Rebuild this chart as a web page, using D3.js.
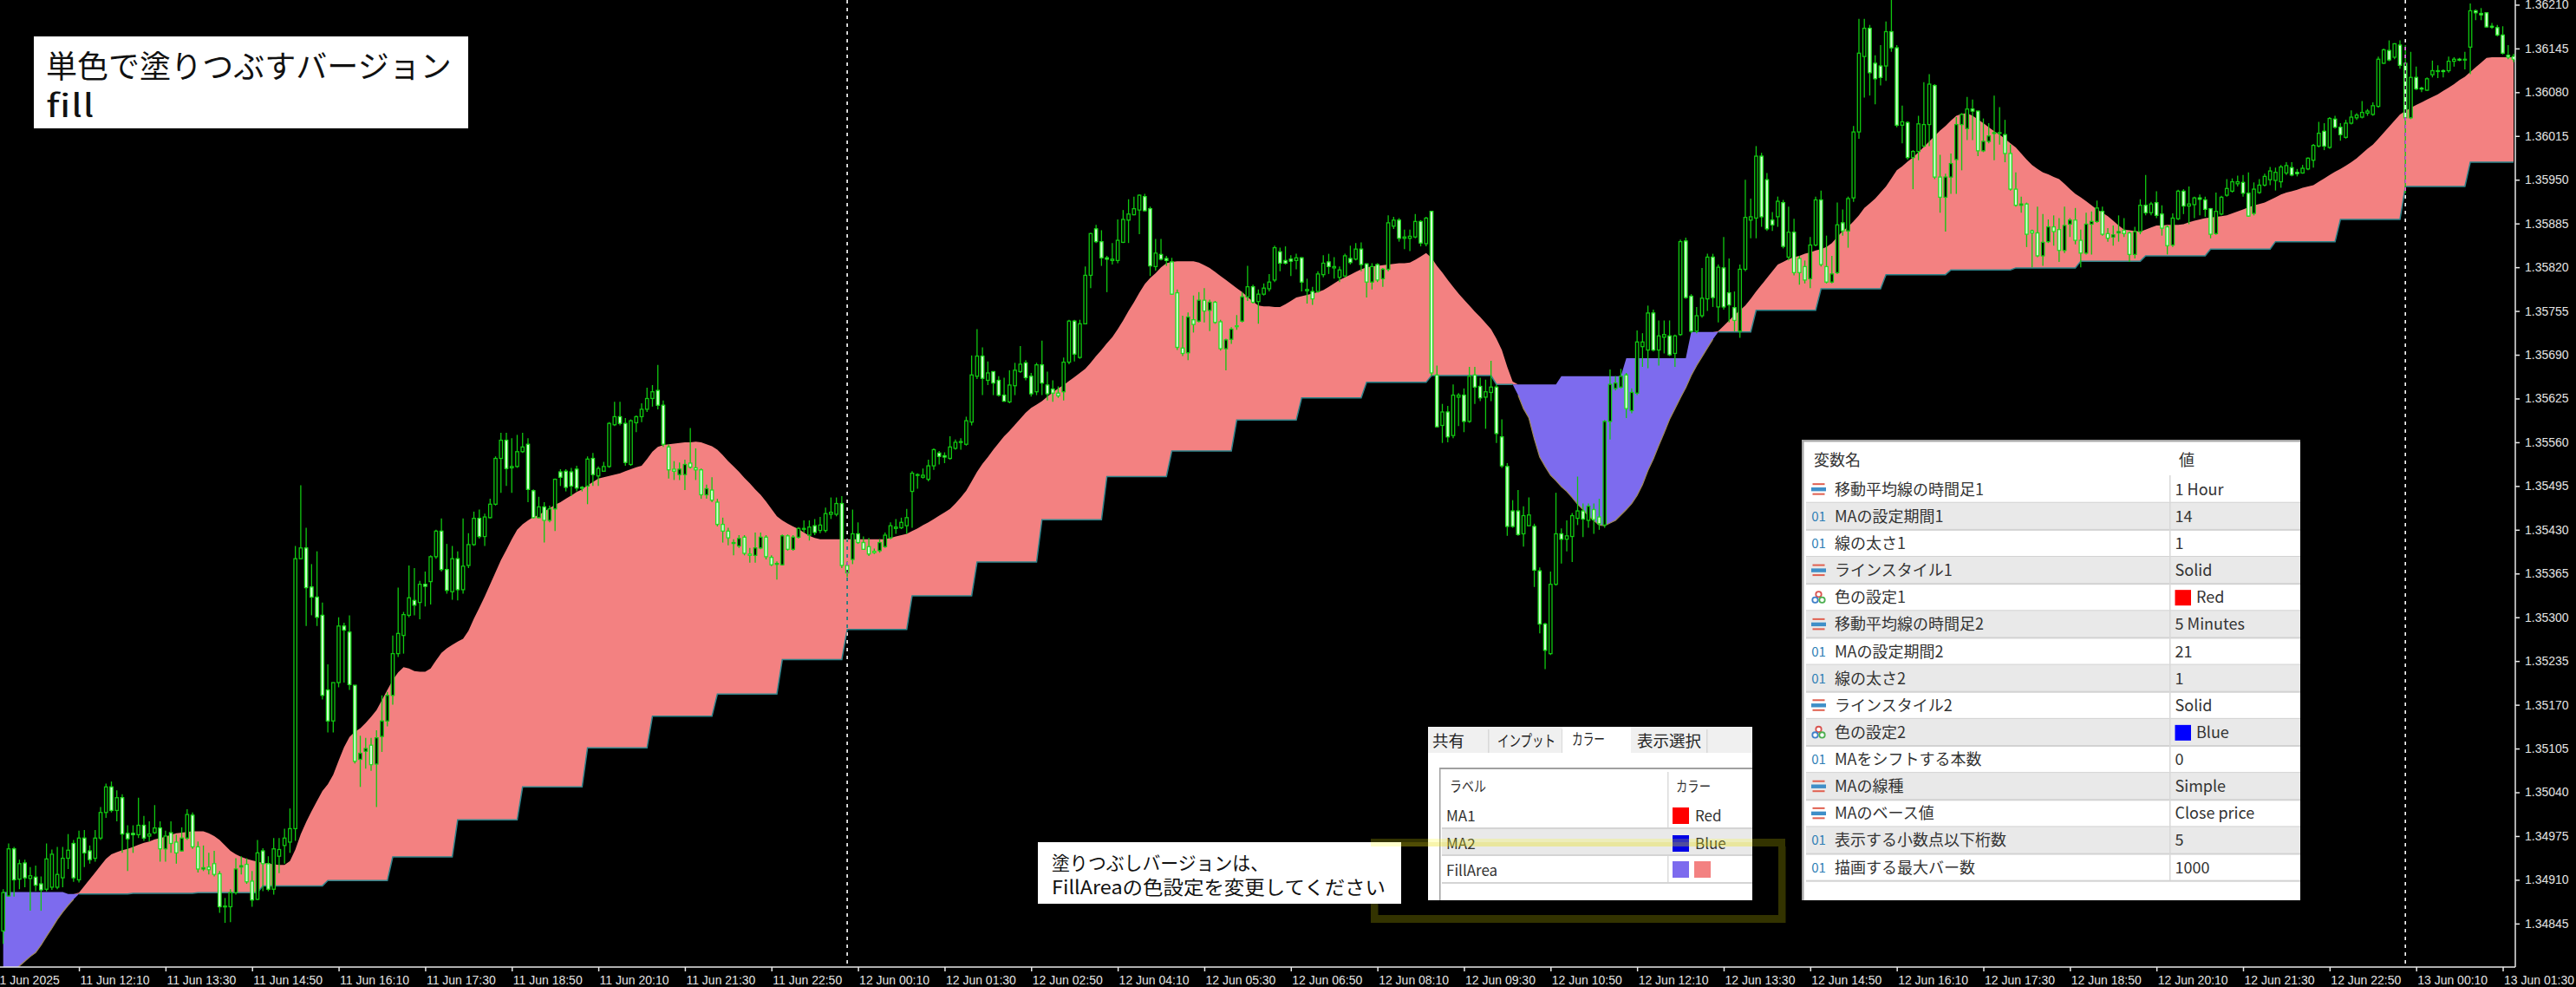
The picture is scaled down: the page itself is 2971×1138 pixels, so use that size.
<!DOCTYPE html>
<html><head><meta charset="utf-8">
<script src="https://cdnjs.cloudflare.com/ajax/libs/d3/7.8.5/d3.min.js"></script>
<style>html,body{margin:0;background:#000;overflow:hidden}svg{display:block}
.jp{font-family:"Noto Sans CJK JP","Noto Sans",sans-serif}
.axis text{font-family:"Liberation Sans",sans-serif;font-size:14px;fill:#e4e4e4}
.axis path,.axis line{stroke:#e8e8e8;stroke-width:1.5}
</style></head><body><svg id="c" width="2971" height="1138"></svg>
<script>
// Values are points above 1.34000 (1 point = 0.00001). Rows: [open, close, high, low]
const candlesA=[[834,891,896,815],[886,956,964,885],[956,910,959,885],[911,934,940,896],[935,913,940,899],[912,916,929,864],[914,902,931,893],[904,895,915,864],[896,941,964,893],[899,948,955,895],[899,918,959,896],[913,942,959,899],[942,954,978,926],[964,913,969,907],[910,972,983,906],[972,950,984,929],[953,940,961,934],[942,972,984,937],[972,1010,1018,969],[1010,1048,1053,1002],[1048,1013,1056,1010],[1013,1032,1043,997],[1032,978,1037,950],[979,971,991,923],[979,977,991,950],[977,991,1032,972],[991,972,1005,968],[975,978,997,967],[980,987,1021,978],[987,956,997,937],[956,975,983,937],[980,964,997,950],[966,950,977,934],[953,972,988,952],[972,1007,1015,969],[1006,959,1010,956],[959,926,967,921],[926,928,961,923],[929,925,950,918],[934,918,953,915],[919,870,923,861],[870,871,883,846],[870,891,896,847],[891,926,942,888],[929,931,945,918],[933,907,942,904],[908,880,923,870],[881,950,969,880],[953,934,957,893],[934,896,945,893],[896,956,972,888],[945,955,972,920],[961,972,986,934],[966,986,1016,950],[986,1387,1406,968],[1387,1403,1496,1387],[1403,1344,1433,1287],[1345,1330,1379,1303],[1330,1300,1398,1287],[1303,1184,1322,1178],[1192,1146,1230,1129],[1146,1203,1203,1129],[1203,1287,1300,1196],[1287,1281,1292,1203],[1278,1200,1303,1192],[1199,1086,1199,1083],[1089,1098,1124,1048],[1101,1105,1121,1075],[1110,1081,1121,1072],[1082,1121,1132,1018],[1123,1146,1184,1100],[1146,1184,1189,1138],[1184,1246,1273,1170],[1246,1276,1344,1241],[1273,1304,1308,1246],[1303,1329,1377,1300],[1325,1318,1373,1303],[1322,1349,1354,1297],[1349,1346,1368,1316],[1353,1390,1392,1319],[1390,1428,1430,1387],[1428,1371,1447,1368],[1371,1340,1409,1335],[1338,1387,1406,1326],[1387,1341,1398,1325],[1341,1376,1447,1335],[1377,1408,1425,1373],[1408,1447,1457,1406],[1447,1420,1460,1417],[1420,1449,1454,1406],[1448,1468,1476,1447],[1468,1536,1539,1466],[1536,1563,1574,1485],[1563,1521,1574,1495],[1522,1524,1566,1485],[1524,1546,1571,1522],[1546,1553,1574,1544],[1557,1490,1566,1471],[1488,1448,1490,1447],[1448,1464,1479,1447],[1464,1444,1471,1411],[1444,1461,1466,1441],[1461,1505,1506,1428],[1516,1508,1520,1495],[1517,1493,1520,1487],[1516,1495,1522,1480],[1520,1492,1525,1487],[1493,1492,1495,1487],[1495,1535,1539,1468],[1536,1512,1544,1495],[1510,1521,1524,1495],[1517,1524,1531,1517],[1524,1588,1590,1522],[1586,1598,1620,1584],[1598,1588,1620,1585],[1588,1530,1596,1525]];
const candlesB=[[1527,1592,1594,1525],[1589,1598,1600,1575],[1598,1609,1618,1590],[1609,1625,1641,1605],[1625,1635,1645,1613],[1637,1615,1675,1609],[1615,1557,1622,1553],[1553,1519,1557,1506],[1520,1517,1532,1504],[1512,1520,1530,1504],[1512,1527,1534,1489],[1529,1523,1581,1521],[1522,1519,1551,1504],[1519,1482,1521,1476],[1482,1491,1497,1476],[1489,1474,1508,1471],[1471,1438,1476,1435],[1438,1428,1448,1411],[1428,1418,1433,1407],[1410,1411,1416,1392],[1406,1417,1422,1403],[1419,1395,1422,1392],[1394,1392,1403,1381],[1392,1403,1426,1381],[1403,1419,1426,1401],[1419,1390,1422,1386],[1389,1378,1392,1376],[1379,1380,1383,1356],[1378,1421,1423,1377],[1421,1401,1423,1399],[1401,1419,1422,1399],[1419,1432,1434,1417],[1431,1432,1444,1426],[1422,1434,1444,1414],[1436,1426,1446,1422],[1429,1437,1449,1425],[1429,1454,1463,1426],[1453,1456,1478,1446],[1453,1469,1478,1450],[1469,1377,1480,1373],[1377,1366,1383,1360],[1386,1424,1460,1379],[1424,1411,1441,1409],[1411,1401,1420,1400],[1405,1394,1418,1391],[1398,1396,1402,1394],[1399,1411,1416,1396],[1405,1422,1426,1403],[1418,1436,1441,1416],[1432,1434,1446,1424],[1433,1441,1448,1431],[1436,1448,1461,1424],[1487,1514,1517,1433],[1512,1512,1514,1491],[1508,1511,1521,1506],[1505,1525,1534,1502],[1525,1549,1551,1519],[1544,1539,1547,1527],[1540,1538,1545,1529],[1536,1553,1569,1534],[1551,1560,1564,1549],[1560,1561,1566,1549],[1557,1592,1598,1555],[1590,1660,1689,1585],[1658,1688,1728,1654],[1688,1655,1701,1630],[1652,1663,1680,1645],[1665,1648,1665,1630],[1652,1630,1658,1628],[1630,1621,1656,1620],[1620,1645,1667,1618],[1644,1667,1678,1630],[1665,1676,1703,1663],[1678,1656,1682,1652],[1658,1632,1663,1628],[1635,1675,1678,1630],[1675,1648,1711,1630],[1645,1632,1665,1622],[1639,1633,1652,1620],[1633,1629,1643,1626],[1635,1679,1686,1622],[1679,1740,1742,1676],[1740,1691,1742,1680],[1686,1736,1742,1684],[1736,1808,1821,1735],[1808,1870,1871,1789],[1877,1858,1883,1856],[1858,1834,1875,1822],[1834,1832,1837,1783],[1830,1832,1856,1824],[1830,1860,1891,1826],[1857,1891,1905,1856],[1890,1899,1921,1856],[1898,1907,1925,1897],[1905,1927,1928,1869],[1925,1904,1929,1903],[1907,1822,1910,1807],[1821,1841,1862,1815],[1839,1832,1862,1830],[1833,1830,1837,1822],[1828,1780,1834,1779],[1782,1701,1787,1697],[1700,1692,1748,1688],[1693,1746,1753,1682],[1742,1735,1778,1723],[1740,1771,1783,1738],[1771,1755,1789,1738],[1756,1768,1772,1725],[1768,1738,1770,1736],[1739,1699,1742,1696],[1699,1712,1714,1667],[1713,1728,1731,1706],[1733,1732,1749,1727],[1740,1776,1783,1738],[1776,1791,1822,1770],[1791,1768,1794,1766]];
const candlesC=[[1769,1780,1787,1736],[1780,1789,1796,1778],[1788,1798,1810,1784],[1801,1849,1852,1798],[1843,1826,1849,1814],[1830,1826,1851,1824],[1832,1829,1838,1807],[1830,1834,1840,1817],[1834,1798,1835,1784],[1785,1787,1803,1766],[1784,1773,1791,1764],[1784,1810,1814,1782],[1809,1826,1838,1805],[1828,1821,1840,1810],[1819,1821,1835,1803],[1805,1816,1821,1798],[1807,1837,1840,1805],[1833,1827,1852,1824],[1832,1847,1856,1830],[1847,1824,1857,1814],[1825,1798,1826,1775],[1798,1821,1826,1787],[1824,1801,1826,1798],[1803,1817,1819,1791],[1817,1886,1897,1814],[1881,1890,1895,1877],[1890,1863,1893,1858],[1863,1865,1876,1847],[1863,1866,1876,1844],[1865,1888,1899,1863],[1888,1856,1890,1851],[1855,1893,1895,1851],[1903,1663,1904,1658],[1660,1583,1674,1582],[1585,1605,1617,1559],[1605,1568,1614,1560],[1570,1630,1646,1566],[1627,1630,1633,1584],[1630,1591,1640,1575],[1591,1658,1672,1589],[1660,1642,1672,1617],[1643,1626,1656,1621],[1627,1635,1653,1580],[1634,1642,1681,1621],[1642,1573,1646,1559],[1568,1525,1594,1522],[1524,1435,1529,1421],[1458,1435,1474,1433],[1458,1423,1489,1421],[1424,1451,1465,1405],[1436,1452,1478,1435],[1435,1370,1439,1345],[1369,1290,1374,1276],[1290,1251,1292,1223],[1246,1349,1368,1244],[1349,1424,1485,1347],[1424,1416,1432,1380],[1416,1421,1444,1398],[1420,1451,1455,1382],[1447,1458,1509,1437],[1458,1446,1469,1419],[1444,1465,1469,1433],[1460,1445,1469,1424],[1449,1439,1476,1430],[1437,1591,1593,1433],[1591,1646,1668,1564],[1640,1648,1658,1637],[1642,1658,1669,1640],[1660,1610,1663,1596],[1607,1634,1640,1603],[1633,1709,1726,1630],[1702,1709,1722,1672],[1697,1752,1763,1670],[1752,1697,1757,1695],[1697,1718,1741,1674],[1716,1720,1741,1692],[1718,1690,1741,1688],[1692,1718,1720,1672],[1720,1858,1861,1718],[1859,1775,1864,1773],[1777,1725,1780,1722],[1725,1748,1761,1722],[1748,1774,1819,1745],[1773,1835,1840,1755],[1835,1775,1840,1761],[1761,1820,1824,1738],[1819,1761,1865,1757],[1782,1764,1833,1738],[1760,1741,1784,1725],[1725,1817,1824,1715],[1817,1894,1950,1814],[1890,1895,1922,1863],[1893,1985,2000,1863],[1985,1895,1990,1880],[1950,1877,1960,1874],[1890,1883,1902,1874],[1895,1918,1925,1880],[1916,1851,1920,1848],[1835,1872,1910,1830],[1872,1812,1892,1808],[1833,1812,1837,1794],[1821,1801,1830,1796],[1803,1853,1865,1789],[1853,1920,1925,1851],[1920,1824,1934,1821],[1821,1798,1867,1796],[1798,1810,1837,1796],[1812,1883,1916,1810],[1886,1874,1906,1867],[1874,1922,1925,1849],[1923,2021,2030,1917],[2021,2138,2189,2011],[2133,2175,2189,2072],[2175,2109,2180,2075],[2123,2100,2135,2062],[2119,2102,2150,2090]];
const candlesD=[[2119,2170,2185,2097],[2170,2146,2225,2140],[2146,2031,2150,2028],[2031,2036,2060,2004],[2035,1983,2037,1980],[1983,1992,1994,1936],[1992,2033,2045,1979],[2000,2032,2095,1998],[2032,2092,2107,2000],[2090,1954,2092,1951],[1954,1924,1987,1901],[1924,1954,1959,1873],[1954,1974,1989,1929],[1980,2032,2043,1929],[2032,2047,2049,1964],[2026,2055,2073,2009],[2055,2052,2069,2009],[2052,1993,2052,1985],[1993,2007,2041,1991],[2007,2015,2034,2004],[2019,2020,2075,1979],[2020,2020,2058,2002],[2017,1989,2039,1976],[1989,1936,2002,1934],[1936,1912,1961,1910],[1912,1914,1925,1901],[1914,1869,1916,1850],[1874,1871,1876,1820],[1871,1837,1910,1835],[1837,1857,1899,1822],[1858,1880,1891,1856],[1880,1873,1897,1852],[1876,1845,1893,1828],[1845,1882,1910,1841],[1884,1890,1893,1865],[1890,1860,1908,1854],[1860,1841,1876,1820],[1841,1884,1901,1839],[1884,1888,1903,1839],[1888,1908,1919,1886],[1903,1869,1910,1867],[1870,1863,1878,1858],[1865,1868,1882,1852],[1871,1873,1897,1858],[1875,1870,1893,1865],[1871,1839,1873,1828],[1839,1873,1880,1833],[1873,1912,1921,1869],[1912,1901,1957,1897],[1901,1914,1917,1897],[1916,1897,1933,1893],[1899,1878,1912,1867],[1880,1852,1882,1839],[1853,1893,1900,1850],[1892,1933,1935,1890],[1933,1911,1936,1899],[1911,1914,1940,1884],[1913,1923,1925,1893],[1923,1921,1928,1897],[1920,1906,1925,1895],[1907,1869,1908,1863],[1870,1903,1931,1868],[1899,1924,1926,1897],[1927,1937,1951,1925],[1933,1947,1952,1931],[1944,1947,1956,1940],[1946,1930,1957,1925],[1930,1896,1961,1895],[1900,1936,1946,1897],[1931,1942,1951,1929],[1942,1955,1959,1940],[1950,1963,1969,1942],[1949,1961,1968,1934],[1947,1969,1972,1938],[1960,1971,1976,1957],[1968,1957,1976,1955],[1961,1959,1966,1955],[1960,1967,1972,1959],[1966,1982,1983,1964],[1979,2001,2003,1968],[2000,2019,2036,1998],[2022,2000,2034,1994],[1998,2041,2043,1996],[2040,2028,2045,2026],[2028,2017,2034,2008],[2013,2034,2039,2011],[2034,2043,2053,2032],[2042,2046,2049,2039],[2043,2050,2067,2041],[2049,2052,2055,2045],[2047,2060,2065,2045],[2059,2129,2133,2057],[2123,2143,2145,2122],[2142,2128,2157,2126],[2132,2152,2153,2129],[2150,2120,2157,2115],[2123,2042,2150,1930],[2042,2102,2140,2040],[2102,2085,2118,2083],[2086,2085,2088,2080],[2083,2100,2102,2082],[2106,2112,2127,2102],[2111,2112,2120,2101],[2112,2111,2114,2102],[2112,2126,2133,2109],[2126,2129,2132,2118],[2129,2128,2131,2126],[2128,2129,2140,2114],[2147,2201,2212,2107],[2201,2198,2203,2187],[2197,2195,2205,2187],[2198,2177,2199,2176],[2178,2177,2183,2174],[2176,2165,2180,2163],[2165,2138,2178,2136],[2135,2132,2150,2129],[2133,2129,2137,2125]];
// 5-minute MA, one value per bar
const fastMA=[760,768,775,782,789,796,802,813,826,838,851,862,872,881,891,901,911,921,931,941,948,951,954,956,959,962,965,967,970,972,974,977,979,980,981,982,982,982,979,975,969,961,953,948,944,941,939,937,935,934,933,932,932,938,955,978,996,1012,1027,1042,1052,1066,1087,1107,1122,1130,1135,1143,1152,1162,1177,1192,1207,1218,1226,1224,1220,1219,1219,1224,1236,1247,1254,1259,1264,1268,1280,1298,1314,1331,1349,1367,1385,1400,1416,1430,1438,1444,1449,1452,1457,1462,1467,1471,1476,1481,1486,1490,1496,1501,1506,1508,1510,1512,1514,1517,
1520,1523,1525,1535,1546,1553,1556,1557,1558,1559,1560,1560,1561,1560,1557,1554,1549,1541,1532,1524,1516,1507,1499,1490,1482,1472,1461,1450,1444,1439,1435,1431,1426,1421,1418,1416,1416,1416,1416,1416,1416,1416,1416,1416,1416,1416,1416,1416,1418,1420,1422,1424,1428,1432,1437,1441,1446,1451,1456,1461,1469,1478,1488,1502,1516,1528,1538,1549,1559,1569,1577,1586,1595,1604,1611,1616,1621,1628,1634,1640,1645,1651,1657,1663,1669,1678,1688,1697,1707,1716,1728,1741,1755,1768,1782,1795,1804,1811,1820,1826,1828,1829,1829,1829,1829,1827,1823,1819,1813,1807,1801,1795,1789,1783,1776,1769,
1763,1762,1762,1761,1761,1765,1770,1775,1777,1779,1781,1783,1786,1791,1796,1801,1805,1809,1813,1817,1820,1821,1822,1823,1824,1825,1826,1826,1827,1831,1836,1841,1834,1822,1812,1801,1791,1781,1772,1763,1754,1746,1737,1728,1714,1697,1672,1650,1630,1610,1596,1565,1538,1524,1511,1503,1494,1487,1478,1468,1460,1451,1444,1437,1436,1440,1444,1452,1460,1469,1481,1497,1518,1535,1555,1574,1594,1610,1626,1641,1659,1674,1687,1700,1713,1725,1733,1741,1749,1756,1763,1773,1784,1794,1804,1814,1824,1828,1832,1835,1837,1840,1842,1845,1847,1850,1856,1865,1874,1880,1888,1897,1908,1915,1922,1931,
1940,1952,1964,1970,1977,1983,1991,1999,2007,2015,2023,2030,2038,2045,2048,2049,2045,2040,2034,2028,2022,2017,2011,2004,1998,1989,1980,1972,1966,1961,1958,1954,1951,1944,1936,1929,1924,1918,1912,1906,1901,1896,1889,1882,1876,1875,1874,1873,1876,1879,1882,1882,1883,1883,1883,1884,1887,1889,1891,1893,1894,1895,1896,1897,1900,1903,1906,1909,1912,1914,1916,1920,1924,1928,1931,1933,1935,1938,1940,1942,1947,1952,1957,1962,1966,1971,1976,1982,1989,1996,2002,2011,2020,2029,2038,2047,2052,2057,2061,2065,2069,2073,2077,2082,2087,2092,2098,2103,2110,2117,2124,2131,2132,2132,2132,2132,2132];
// 1-hour MA, one value per hour (12 bars each)
const slowMAHourly=[892,889,890,891,901,909,944,999,1048,1106,1153,1186,1237,1282,1332,1382,1445,1509,1547,1593,1626,1649,1659,1646,1658,1685,1724,1756,1788,1809,1816,1819,1829,1837,1847,1858,1891,1940,1976];
const priceTicks=[2210,2145,2080,2015,1950,1885,1820,1755,1690,1625,1560,1495,1430,1365,1300,1235,1170,1105,1040,975,910,845];
const timeLabels=["11 Jun 2025","11 Jun 12:10","11 Jun 13:30","11 Jun 14:50","11 Jun 16:10","11 Jun 17:30","11 Jun 18:50","11 Jun 20:10","11 Jun 21:30","11 Jun 22:50","12 Jun 00:10","12 Jun 01:30","12 Jun 02:50","12 Jun 04:10","12 Jun 05:30","12 Jun 06:50","12 Jun 08:10","12 Jun 09:30","12 Jun 10:50","12 Jun 12:10","12 Jun 13:30","12 Jun 14:50","12 Jun 16:10","12 Jun 17:30","12 Jun 18:50","12 Jun 20:10","12 Jun 21:30","12 Jun 22:50","13 Jun 00:10","13 Jun 01:30"];
const timeLabelBars=[-2,14,30,46,62,78,94,110,126,142,158,174,190,206,222,238,254,270,286,302,318,334,350,366,382,398,414,430,446,462];
const daySeparatorBars=[156,444];
const titleLines=["単色で塗りつぶすバージョン","fill"];
const noteLines=["塗りつぶしバージョンは、","FillAreaの色設定を変更してください"];
const tabLabels=["共有","インプット","カラー","表示選択"];
const colorRows=[["MA1","Red"],["MA2","Blue"],["FillArea",""]];
const paramNames=["移動平均線の時間足1","MAの設定期間1","線の太さ1","ラインスタイル1","色の設定1","移動平均線の時間足2","MAの設定期間2","線の太さ2","ラインスタイル2","色の設定2","MAをシフトする本数","MAの線種","MAのベース値","表示する小数点以下桁数","描画する最大バー数"];
const paramValues=["1 Hour","14","1","Solid","Red","5 Minutes","21","1","Solid","Blue","0","Simple","Close price","5","1000"];
const paramKinds=["e","n","n","e","c","e","n","n","e","c","n","e","e","n","n"];

const candles=[...candlesA,...candlesB,...candlesC,...candlesD];
const barIdx=d3.range(candles.length);
const slowMA=barIdx.map(i=>slowMAHourly[Math.floor(i/12)]);
const svg=d3.select("#c");
const W=2971,H=1138,plotR=2901,plotB=1115;
const x=d3.scaleLinear().domain([0,464]).range([3.7,2899]);
const y=d3.scaleLinear().domain([2217,780.4]).range([0,plotB]);
svg.append("defs").append("clipPath").attr("id","pc").append("rect").attr("width",plotR).attr("height",plotB);
const plot=svg.append("g").attr("clip-path","url(#pc)");
const PINK="#f38181",PURPLE="#7d6bee";
const band=(pred)=>d3.area().x(i=>x(i)).y0(i=>y(slowMA[i])).y1(i=>y(pred(fastMA[i],slowMA[i])));
plot.append("path").attr("d",band(Math.max)(barIdx)).attr("fill",PINK);
plot.append("path").attr("d",band(Math.min)(barIdx)).attr("fill",PURPLE);
plot.append("path").attr("d",d3.line().defined(i=>fastMA[i]>=slowMA[i]).x(i=>x(i)).y(i=>y(slowMA[i]))(barIdx)).attr("fill","none").attr("stroke","#2f858c").attr("stroke-width",1.5);
plot.append("path").attr("d",d3.line().defined(i=>fastMA[i]<slowMA[i]).x(i=>x(i)).y(i=>y(fastMA[i]))(barIdx)).attr("fill","none").attr("stroke","#a08a5a").attr("stroke-width",1.2);

const cg=plot.append("g");
cg.selectAll("line").data(candles).join("line")
  .attr("x1",(d,i)=>x(i)).attr("x2",(d,i)=>x(i)).attr("y1",d=>y(d[2])).attr("y2",d=>y(d[3]))
  .attr("stroke","#10c810").attr("stroke-width",1.3);
cg.selectAll("rect").data(candles).join("rect")
  .attr("x",(d,i)=>x(i)-1.7).attr("width",3.4)
  .attr("y",d=>y(Math.max(d[0],d[1]))).attr("height",d=>Math.max(1,Math.abs(y(d[0])-y(d[1]))))
  .attr("fill",d=>d[1]>=d[0]?"#000":"#d4ffd4").attr("stroke",d=>d[1]>=d[0]?"#10c810":"#20e020").attr("stroke-width",1.3);

plot.selectAll("line.sep").data(daySeparatorBars).join("line").attr("class","sep")
  .attr("x1",d=>x(d)).attr("x2",d=>x(d)).attr("y1",0).attr("y2",plotB)
  .attr("stroke","#fff").attr("stroke-width",1.6).attr("stroke-dasharray","4,5").style("mix-blend-mode","difference");

const yAxis=d3.axisRight(y).tickValues(priceTicks).tickSize(5).tickPadding(6).tickFormat(p=>(1.34+p/1e5).toFixed(5));
svg.append("g").attr("class","axis").attr("transform",`translate(${plotR},0)`).call(yAxis).call(g=>g.select(".domain").attr("d",`M0,0V${plotB}`));
const xAxis=d3.axisBottom(x).tickValues(timeLabelBars).tickSize(5).tickPadding(3).tickFormat((d,i)=>timeLabels[i]);
svg.append("g").attr("class","axis").attr("transform",`translate(0,${plotB})`).call(xAxis)
  .call(g=>g.select(".domain").attr("d",`M0,0H${plotR}`))
  .call(g=>g.selectAll("text").attr("text-anchor","start").attr("x",1).attr("y",20).attr("dy",0));

// overlays
const rect=(g,x0,y0,w,h,f)=>g.append("rect").attr("x",x0).attr("y",y0).attr("width",w).attr("height",h).attr("fill",f);
const text=(g,s,x0,yb,sz,f,a)=>g.append("text").attr("class","jp").attr("x",x0).attr("y",yb).attr("font-size",sz).attr("fill",f||"#000").attr("text-anchor",a||"start").text(s);
const fit=(t,len)=>t.attr("textLength",len).attr("lengthAdjust","spacingAndGlyphs");
const ov=svg.append("g");
rect(ov,39,42,501,106,"#fff");
titleLines.forEach((t,i)=>{const e=text(ov,t,53,[90,135][i],36,"#111"); if(i==1) fit(e,56);});
rect(ov,1197,971,419,71,"#fff");
noteLines.forEach((t,i)=>fit(text(ov,t,1213,[1003,1031][i],21.5,"#111"),[250,385][i]));

// colour tab panel
rect(ov,1647,838,374,200,"#fff");
rect(ov,1647,838,374,30,"#f0f0f0");
const tabX=[1647,1717,1802,1881,1969];
const tabTextX=[1652,1727,1813,1888],tabTextW=[37,67,38,74];
tabLabels.forEach((t,i)=>{
  if(i==2) rect(ov,tabX[i],838,tabX[i+1]-tabX[i],32,"#fff");
  else rect(ov,tabX[i+1]-1,841,1.5,27,"#d8d8d8");
  fit(text(ov,t,tabTextX[i],i==2?859:861,18,"#222"),tabTextW[i]);
});
rect(ov,1660,885,361,2,"#a0a0a0");rect(ov,1660,885,1.5,153,"#a0a0a0");
rect(ov,1923,890,1.5,128,"#dcdcdc");
fit(text(ov,"ラベル",1672,913,17,"#333"),42);fit(text(ov,"カラー",1933,913,17,"#333"),40);
rect(ov,1663,955,358,31,"#e9e9e9");
[955,986,1018].forEach(v=>rect(ov,1663,v-1,358,2,"#d4d4d4"));
const cBase=[947,979,1010],cSw=[931,963,993];
colorRows.forEach((r,i)=>{
  text(ov,r[0],1668,cBase[i],17,"#333");
  if(r[1]){rect(ov,1929,cSw[i],19,19,r[1]=="Red"?"#ff0000":"#0000e6");text(ov,r[1],1955,cBase[i],17,"#333");}
  else{rect(ov,1929,cSw[i],19,19,PURPLE);rect(ov,1954,cSw[i],19,19,PINK);}
});
// highlight frame
const hl="rgba(255,255,0,0.2)";
rect(ov,1581,967,478,9,hl);rect(ov,2051,976,8.5,88,hl);rect(ov,1581,1055,470,9,hl);rect(ov,1581,1042,8.5,13,hl);
rect(ov,1616,971,405,5,"rgba(215,200,30,0.18)");

// parameter table
rect(ov,2078,507,575,531,"#fff");
rect(ov,2078,507,575,2.5,"#a8a8a8");rect(ov,2078,507,2.5,531,"#a8a8a8");
text(ov,"変数名",2092,537,18,"#333");text(ov,"値",2513,537,18,"#333");
const r0=548.6,rh=31.14;
paramNames.forEach((n,i)=>{
  const top=r0+i*rh;
  if(i%2==1) rect(ov,2083,top,570,rh,"#e9e9e9");
  rect(ov,2083,top+rh-1,570,2,"#d2d2d2");
  const b=top+rh/2+6.5,cx=2097.5,cy=top+rh/2;
  if(paramKinds[i]=="n"){ text(ov,"01",cx,b-1,15,"#2f7fb5","middle"); }
  else if(paramKinds[i]=="e"){
    rect(ov,cx-7,cy-7,14,2,"#e06050");rect(ov,cx-8.5,cy-2.2,17,4.4,"#3f8fc8");rect(ov,cx-7,cy+4.5,14,2,"#e06050");
  } else {
    [[0,-3.5,"#d9534f"],[-4,3,"#3f7fc8"],[4,3,"#4caf50"]].forEach(c=>ov.append("circle").attr("cx",cx+c[0]).attr("cy",cy+c[1]).attr("r",3.2).attr("fill","#fff").attr("stroke",c[2]).attr("stroke-width",1.8));
  }
  text(ov,n,2116,b,18,"#333");
  const v=paramValues[i];
  if(paramKinds[i]=="c"){
    rect(ov,2508.5,top+7,18.5,18,v=="Red"?"#ff0000":"#0000ff");
    text(ov,v,2533,b,18,"#333");
  } else text(ov,v,2508.5,b,18,"#333");
});
rect(ov,2502,548,1.5,467,"#d8d8d8");
</script></body></html>
